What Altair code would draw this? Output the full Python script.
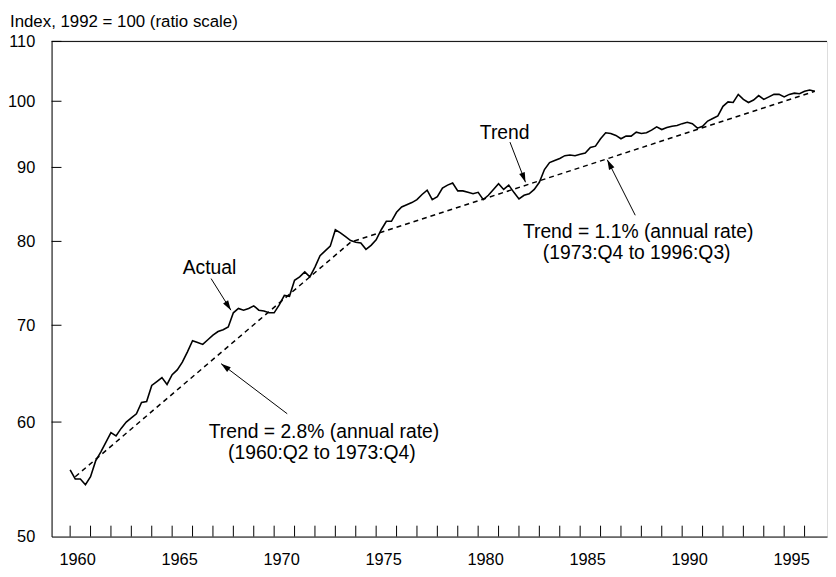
import altair as alt
import pandas as pd

FONT = "Liberation Sans, Arial, Helvetica, sans-serif"
W, H = 783, 500

# ---- data (quarterly, 1960:Q1 .. 1996:Q3), index 1992 = 100 ----
start_year = 1960
actual = [
    55.6, 54.8, 54.8, 54.3, 55.0, 56.4, 57.2, 58.1, 59.0, 58.7,
    59.4, 60.0, 60.4, 60.8, 61.9, 62.0, 63.6, 64.0, 64.4, 63.7,
    64.7, 65.2, 66.0, 67.1, 68.3, 68.1, 67.9, 68.4, 68.9, 69.3,
    69.5, 69.8, 71.4, 71.9, 71.7, 71.9, 72.2, 71.7, 71.6, 71.4,
    71.4, 72.3, 73.4, 73.3, 75.2, 75.6, 76.2, 75.6, 76.8, 78.2,
    78.8, 79.4, 81.5, 81.1, 80.6, 80.1, 79.9, 79.8, 79.0, 79.5,
    80.2, 81.5, 82.6, 82.6, 83.8, 84.5, 84.8, 85.1, 85.5, 86.2,
    86.8, 85.5, 85.9, 87.1, 87.5, 87.8, 86.7, 86.7, 86.5, 86.3,
    86.5, 85.5, 86.1, 86.9, 87.7, 86.9, 87.5, 86.5, 85.6, 86.1,
    86.3, 86.9, 87.9, 89.7, 90.7, 91.0, 91.3, 91.7, 91.8, 91.7,
    91.9, 92.1, 92.9, 93.1, 94.2, 95.1, 95.0, 94.7, 94.2, 94.6,
    94.6, 95.2, 95.0, 95.1, 95.5, 96.0, 95.6, 95.9, 96.1, 96.2,
    96.5, 96.7, 96.5, 95.8, 96.1, 96.9, 97.3, 97.7, 99.2, 99.9,
    99.8, 101.1, 100.3, 99.8, 100.2, 100.9, 100.3, 100.7, 101.1, 101.1,
    100.7, 101.1, 101.3, 101.2, 101.6, 101.8, 101.6,
]
trend_years = [1960.25, 1973.75, 1996.5]
trend_values = [55.0, 79.9, 101.6]

y_ticks = [50, 60, 70, 80, 90, 100, 110]
y_inner_ticks = [60, 70, 80, 90, 100, 110]
x_tick_years = list(range(1960, 1997))
x_label_years = list(range(1960, 1996, 5))

title_text = "Index, 1992 = 100 (ratio scale)"

ann_text = ["Actual", "Trend", "Trend = 1.1% (annual rate)", "(1973:Q4 to 1996:Q3)",
            "Trend = 2.8% (annual rate)", "(1960:Q2 to 1973:Q4)"]
ann_x = [1966.83, 1981.30, 1987.84, 1987.77, 1972.44, 1972.34]
ann_y = [75.9, 94.2, 80.4, 77.8, 58.5, 56.6]

arrow_x0 = [1966.91, 1981.56, 1987.70, 1970.64]
arrow_y0 = [75.4, 93.7, 83.4, 60.8]
arrow_x1 = [1967.88, 1982.32, 1986.33, 1967.40]
arrow_y1 = [71.7, 87.9, 91.1, 65.85]
arrow_angle = [147.7, 159.3, 333.4, 307.8]

# ---- tables ----
df_actual = pd.DataFrame({
    "year": [start_year + i / 4 for i in range(len(actual))],
    "value": actual,
})
df_trend = pd.DataFrame({"year": trend_years, "value": trend_values})
df_xt = pd.DataFrame({"year": x_tick_years})
df_yt = pd.DataFrame({"value": y_inner_ticks})
df_ann = pd.DataFrame({"year": ann_x, "value": ann_y, "label": ann_text})
df_arr = pd.DataFrame({"x0": arrow_x0, "y0": arrow_y0, "x1": arrow_x1,
                       "y1": arrow_y1, "ang": arrow_angle})
df_one = pd.DataFrame({"k": [0]})

xs = alt.Scale(domain=[1959.09, 1997.1], nice=False, zero=False)
ys = alt.Scale(type="log", domain=[50, 110], nice=False)

x_axis = alt.Axis(values=x_label_years, format="d", ticks=False, grid=False,
                  title=None, labelOffset=7, labelPadding=15, labelFontSize=16.5,
                  labelColor="black", labelFont=FONT, labelFlush=False,
                  labelOverlap=False, domainColor="black", domainWidth=1)
y_axis = alt.Axis(values=y_ticks, format="d", ticks=False, grid=False,
                  title=None, labelPadding=17, labelFontSize=16.5,
                  labelColor="black", labelFont=FONT, labelFlush=False,
                  labelOverlap=False, domainColor="black", domainWidth=1)

X = lambda f: alt.X(f"{f}:Q", scale=xs, axis=x_axis)
Y = lambda f: alt.Y(f"{f}:Q", scale=ys, axis=y_axis)

line_actual = alt.Chart(df_actual).mark_line(color="black", strokeWidth=1.6).encode(
    x=X("year"), y=Y("value"))

line_trend = alt.Chart(df_trend).mark_line(color="black", strokeWidth=1.5,
                                           strokeDash=[5, 4]).encode(
    x=X("year"), y=Y("value"))

xticks = alt.Chart(df_xt).mark_rule(color="black", strokeWidth=1).encode(
    x=X("year"), y=alt.value(H), y2=alt.value(H - 11))

yticks = alt.Chart(df_yt).mark_rule(color="black", strokeWidth=1).encode(
    y=Y("value"), x=alt.value(0), x2=alt.value(10))

top_line = alt.Chart(df_one).mark_rule(color="black", strokeWidth=1).encode(
    x=alt.value(0), x2=alt.value(W), y=alt.value(0))

title = alt.Chart(df_one).mark_text(align="left", baseline="alphabetic",
                                    fontSize=17, font=FONT, color="black").encode(
    x=alt.value(-42), y=alt.value(-15), text=alt.value(title_text))

ann = alt.Chart(df_ann).mark_text(align="center", baseline="alphabetic",
                                  fontSize=19.5, font=FONT, color="black").encode(
    x=X("year"), y=Y("value"), text="label:N")

arrows = alt.Chart(df_arr).mark_rule(color="black", strokeWidth=1).encode(
    x=X("x0"), y=Y("y0"), x2="x1:Q", y2="y1:Q")

heads = alt.Chart(df_arr).mark_point(shape="M0,0L-0.6,2L0.6,2Z", filled=True,
                                     size=100, color="black", opacity=1,
                                     strokeWidth=0).encode(
    x=X("x1"), y=Y("y1"), angle=alt.Angle("ang:Q", scale=None))

chart = alt.layer(
    line_trend, line_actual, xticks, yticks, top_line, title, ann, arrows, heads
).properties(
    width=W, height=H,
    padding={"left": 44, "top": 31, "right": 1, "bottom": 28},
    autosize=alt.AutoSizeParams(type="none"),
).configure_view(stroke=None).configure(background="white")

chart.save("out.html", embed_options={"renderer": "svg", "actions": False})
